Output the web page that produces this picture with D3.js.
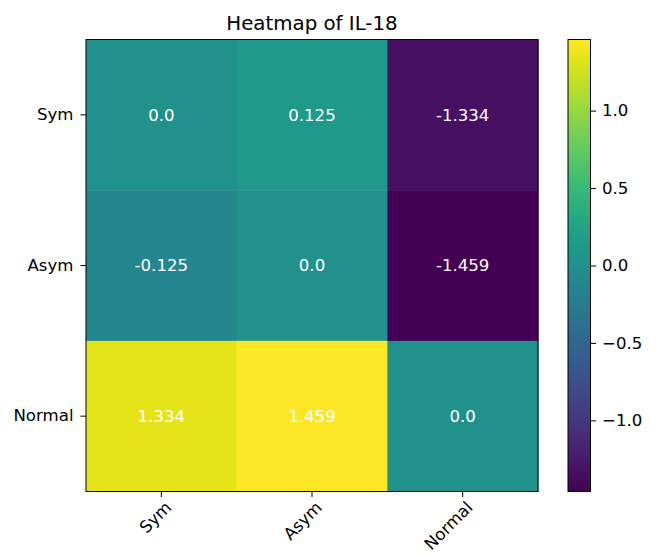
<!DOCTYPE html>
<html>
<head>
<meta charset="utf-8">
<script src="https://cdn.jsdelivr.net/npm/d3@7"></script>
<style>
  body { margin: 0; background: #fff; }
  text { font-family: "DejaVu Sans", sans-serif; }
</style>
</head>
<body>
<script>
// groups and pairwise values
const rowLabels = ["Sym", "Asym", "Normal"];
const colLabels = ["Sym", "Asym", "Normal"];
const values = [
  [0.0, 0.125, -1.334],
  [-0.125, 0.0, -1.459],
  [1.334, 1.459, 0.0]
];
const cbarTicks = [1.0, 0.5, 0.0, -0.5, -1.0];
const title = "Heatmap of IL-18";

const width = 657, height = 555;
const margin = {top: 39.5, left: 86, size: 452};
const fs = "16.6px", tick = 5.5;

const svg = d3.select("body").append("svg")
    .attr("width", width)
    .attr("height", height);

const vmin = d3.min(values.flat()), vmax = d3.max(values.flat());
const color = d3.scaleSequential(d3.interpolateViridis).domain([vmin, vmax]);

const x = d3.scaleBand().domain(colLabels).range([0, margin.size]);
const y = d3.scaleBand().domain(rowLabels).range([0, margin.size]);

const g = svg.append("g")
    .attr("transform", "translate(" + margin.left + "," + margin.top + ")");

// cells
const cells = [];
values.forEach(function(row, i) {
  row.forEach(function(v, j) {
    cells.push({r: rowLabels[i], c: colLabels[j], v: v});
  });
});

g.selectAll("rect.cell")
  .data(cells)
  .enter().append("rect")
    .attr("class", "cell")
    .attr("x", d => x(d.c))
    .attr("y", d => y(d.r))
    .attr("width", x.bandwidth() + 0.5)
    .attr("height", y.bandwidth() + 0.5)
    .attr("fill", d => color(d.v));

g.selectAll("text.val")
  .data(cells)
  .enter().append("text")
    .attr("class", "val")
    .attr("x", d => x(d.c) + x.bandwidth() / 2)
    .attr("y", d => y(d.r) + y.bandwidth() / 2)
    .attr("dy", "0.35em")
    .attr("text-anchor", "middle")
    .attr("fill", "#fff")
    .style("font-size", fs)
    .text(d => d.v === 0 ? "0.0" : String(d.v));

g.append("rect")
    .attr("width", margin.size)
    .attr("height", margin.size)
    .attr("fill", "none")
    .attr("stroke", "#000")
    .attr("stroke-width", 1);

// axes
const yAxis = g.append("g")
    .call(d3.axisLeft(y).tickSize(tick).tickPadding(7));
const xAxis = g.append("g")
    .attr("transform", "translate(0," + margin.size + ")")
    .call(d3.axisBottom(x).tickSize(tick).tickPadding(4));

[xAxis, yAxis].forEach(function(a) {
  a.select(".domain").remove();
  a.selectAll("line").attr("stroke", "#000").attr("stroke-width", 1);
  a.selectAll("text").attr("fill", "#000")
    .style("font-size", fs)
    .style("font-family", "DejaVu Sans, sans-serif");
});

// rotated labels, anchored at their top-right corner
xAxis.selectAll("text")
    .attr("text-anchor", "end")
    .attr("y", 0)
    .attr("dy", "0.85em")
    .attr("transform", "translate(1," + (tick + 1.5) + ") rotate(-45)");

// title
svg.append("text")
    .attr("x", margin.left + margin.size / 2)
    .attr("y", 29.5)
    .attr("text-anchor", "middle")
    .style("font-size", "19.8px")
    .attr("fill", "#000")
    .text(title);

// colorbar
const cb = {x: 568, w: 22.5};
const cy = d3.scaleLinear().domain([vmin, vmax]).range([margin.top + margin.size, margin.top]);

const defs = svg.append("defs");
const grad = defs.append("linearGradient")
    .attr("id", "cbgrad")
    .attr("x1", 0).attr("y1", 1).attr("x2", 0).attr("y2", 0);
d3.range(0, 1.0001, 0.05).forEach(function(t) {
  grad.append("stop")
    .attr("offset", t)
    .attr("stop-color", d3.interpolateViridis(t));
});

svg.append("rect")
    .attr("x", cb.x)
    .attr("y", margin.top)
    .attr("width", cb.w)
    .attr("height", margin.size)
    .attr("fill", "url(#cbgrad)")
    .attr("stroke", "#000")
    .attr("stroke-width", 1);

const cAxis = svg.append("g")
    .attr("transform", "translate(" + (cb.x + cb.w) + ",0)")
    .call(d3.axisRight(cy).tickValues(cbarTicks).tickSize(tick).tickPadding(6)
      .tickFormat(d => d3.format(".1f")(d)));
cAxis.select(".domain").remove();
cAxis.selectAll("line").attr("stroke", "#000");
cAxis.selectAll("text").attr("fill", "#000")
    .style("font-size", fs)
    .style("font-family", "DejaVu Sans, sans-serif");
</script>
</body>
</html>
